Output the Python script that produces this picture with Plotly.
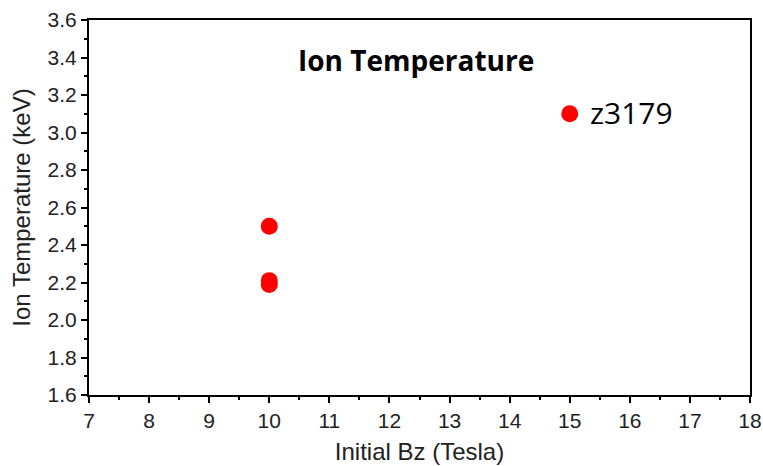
import plotly.graph_objects as go

# Données
bz_tesla = [10, 10, 10, 15]
ion_temp_kev = [2.50, 2.21, 2.19, 3.10]
shot_label = "z3179"
shot_bz = 15
shot_temp = 3.10

fig = go.Figure()

fig.add_trace(go.Scatter(
    x=bz_tesla,
    y=ion_temp_kev,
    mode="markers",
    marker=dict(color="#ff0000", size=17),
    showlegend=False,
))

fig.add_annotation(
    x=shot_bz, y=shot_temp, text=shot_label,
    xref="x", yref="y", xanchor="left", yanchor="middle",
    xshift=18, yshift=1, showarrow=False,
    font=dict(family="Open Sans, Lato, sans-serif", size=30, color="black"),
)

fig.add_annotation(
    x=0.494, y=0.893, xref="paper", yref="paper",
    text="<b>Ion Temperature</b>", showarrow=False,
    xanchor="center", yanchor="middle",
    font=dict(family="Open Sans, Lato, sans-serif", size=28, color="black"),
)

axis_common = dict(
    showline=True, linecolor="black", linewidth=2, mirror=True,
    ticks="outside", ticklen=6, tickwidth=2, tickcolor="black",
    showgrid=False, zeroline=False, automargin=False,
    tickfont=dict(family="Liberation Sans, Arial", size=21, color="#222"),
    title_font=dict(family="Liberation Sans, Arial", size=24, color="#222"),
)

fig.update_xaxes(
    range=[7, 18], dtick=1, title_text="Initial Bz (Tesla)",
    minor=dict(dtick=0.5, ticks="outside", ticklen=3, tickwidth=2, tickcolor="black"),
    title_standoff=12,
    **axis_common,
)
fig.update_yaxes(
    range=[1.6, 3.6], dtick=0.2, tickformat=".1f", title_text="Ion Temperature (keV)",
    minor=dict(dtick=0.1, ticks="outside", ticklen=3, tickwidth=2, tickcolor="black"),
    title_standoff=10,
    **axis_common,
)

fig.update_layout(
    width=763, height=466,
    margin=dict(l=89, r=13, t=20, b=71),
    plot_bgcolor="white", paper_bgcolor="white",
)

# pas de marge du <body> pour que la figure occupe toute la fenêtre
fig.write_html(
    "out.html",
    config={"displayModeBar": False},
    post_script="document.body.style.margin='0';",
)
